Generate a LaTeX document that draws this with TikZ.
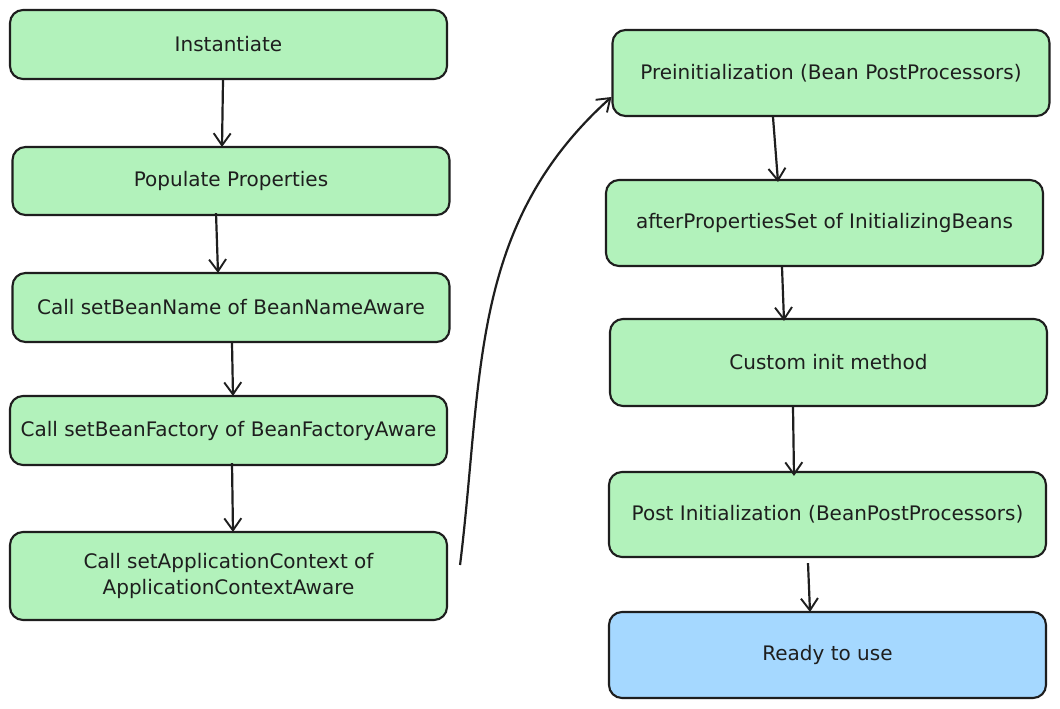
\documentclass[tikz,border=0pt]{standalone}
\usepackage{fontspec}
\setmainfont{DejaVu Sans}
\usetikzlibrary{arrows.meta}
\definecolor{boxgreen}{HTML}{B2F2BB}
\definecolor{boxblue}{HTML}{A5D8FF}
\definecolor{ink}{HTML}{1E1E1E}
\tikzset{
  box/.style={draw=ink, line width=2.1pt, rounded corners=13pt, fill=boxgreen,
    minimum width=437pt, inner sep=2pt, align=center, text=ink,
    font=\fontsize{20}{26}\selectfont},
  arr/.style={draw=ink, line width=2.2pt, -{Straight Barb[length=12pt,width=17pt,line width=1.9pt]}}
}
\begin{document}
\begin{tikzpicture}[x=1pt,y=-1pt]
\useasboundingbox (0,0) rectangle (1060,709);
\fill[white] (0,0) rectangle (1060,709);
% left column
\node[box, minimum height=69pt] (n1) at (228.5,44.5) {Instantiate};
\node[box, minimum height=68pt] (n2) at (231,181) {Populate Properties};
\node[box, minimum height=69pt] (n3) at (231,307.5) {Call setBeanName of BeanNameAware};
\node[box, minimum height=69pt] (n4) at (228.5,430.5) {Call setBeanFactory of BeanFactoryAware};
\node[box, minimum height=88pt] (n5) at (228.5,576) {Call setApplicationContext of\\ApplicationContextAware};
% right column
\node[box, minimum height=86pt] (n6) at (831,73) {Preinitialization (Bean PostProcessors)};
\node[box, minimum height=86pt] (n7) at (824.5,223) {afterPropertiesSet of InitializingBeans};
\node[box, minimum height=87pt] (n8) at (828.5,362.5) {Custom init method};
\node[box, minimum height=85pt] (n9) at (827.5,514.5) {Post Initialization (BeanPostProcessors)};
\node[box, fill=boxblue, minimum height=86pt] (n10) at (827.5,655) {Ready to use};
% connectors
\draw[arr] ([xshift=-5.5pt]n1.south) -- ([xshift=-9pt,yshift=-1pt]n2.north);
\draw[arr] ([xshift=-15pt,yshift=3pt]n2.south) -- ([xshift=-13pt,yshift=-1pt]n3.north);
\draw[arr] ([xshift=1pt]n3.south) -- ([xshift=4.5pt,yshift=-1pt]n4.north);
\draw[arr] ([xshift=3.5pt,yshift=3pt]n4.south) -- ([xshift=4.5pt,yshift=-1pt]n5.north);
\coordinate (c5) at ([xshift=12pt,yshift=11pt]n5.east);
\draw[arr] (c5) to[out=83,in=222] ([yshift=-24pt]n6.west);
\draw[arr] ([xshift=-58pt]n6.south) -- ([xshift=-46.5pt,yshift=-3pt]n7.north);
\draw[arr] ([xshift=-42.5pt]n7.south) -- ([xshift=-44.5pt,yshift=-3pt]n8.north);
\draw[arr] ([xshift=-35.5pt]n8.south) -- ([xshift=-33.5pt,yshift=-5pt]n9.north);
\draw[arr] ([xshift=-19.5pt,yshift=-5pt]n9.south) -- ([xshift=-17.5pt,yshift=-1pt]n10.north);
\end{tikzpicture}
\end{document}
